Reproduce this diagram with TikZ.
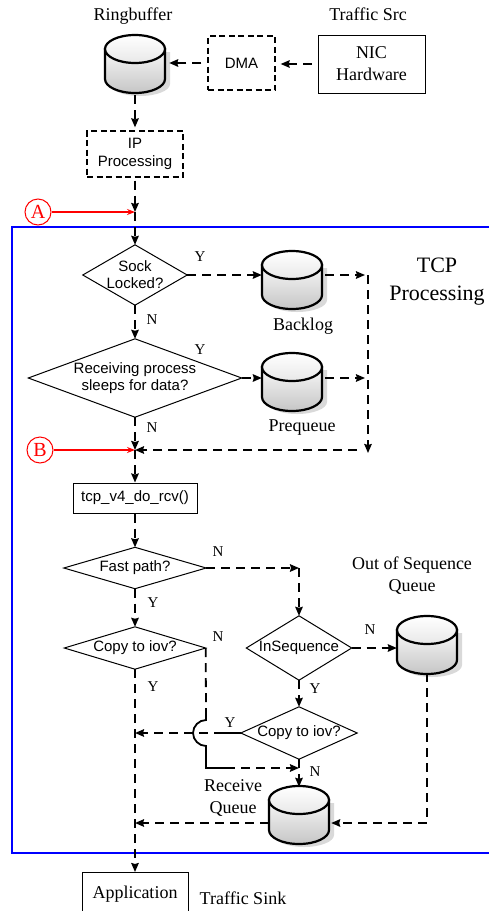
\documentclass[tikz,border=0pt]{standalone}
\usepackage{fontspec}
\setmainfont{Liberation Serif}
\newfontfamily\sansf{Liberation Sans}
\usetikzlibrary{arrows.meta,calc}

\tikzset{
 conn/.style={line width=1.8pt, dash pattern=on 9pt off 6pt, -{Stealth[length=9pt,width=7.5pt,inset=1pt]}},
 solidln/.style={line width=1.8pt},
 lbl/.style={font=\fontsize{18}{22}\selectfont, align=center, inner sep=0pt},
 yn/.style={font=\fontsize{15}{16}\selectfont, inner sep=0pt},
 sbox/.style={draw, line width=1pt, font=\sansf\fontsize{15}{18}\selectfont, align=center, inner sep=0pt},
 dbox/.style={sbox, line width=1.3pt, dash pattern=on 6pt off 3.5pt},
 dtext/.style={font=\sansf\fontsize{15}{17}\selectfont, align=center, inner sep=0pt},
 dia/.style={line width=1pt},
 cylnode/.style={minimum width=60pt, minimum height=56pt, inner sep=0pt},
 redc/.style={draw=red, circle, line width=1pt, minimum size=26pt, inner sep=0pt, text=red, font=\fontsize{20}{20}\selectfont},
 redarr/.style={red, line width=1.2pt, -{Stealth[length=8pt,width=6pt]}},
}

\newcommand\mycyl[2]{%
 \begin{scope}[shift={#2}]
  \fill[black!15] (-25,-12) -- (-25,20) .. controls (-25,26.6) and (-11.6,32) .. (5,32) .. controls (21.6,32) and (35,26.6) .. (35,20) -- (35,-12) -- cycle;
  \draw[line width=2.2pt, top color=gray!6, bottom color=gray!45] (-30,-15) -- (-30,15) .. controls (-30,22.7) and (-16.6,29) .. (0,29) .. controls (16.6,29) and (30,22.7) .. (30,15) -- (30,-15) -- cycle;
  \draw[line width=2.2pt, top color=white, bottom color=gray!18] (0,-15) ellipse [x radius=30, y radius=14];
 \end{scope}
 \node[cylnode] (#1) at #2 {};
}

\newcommand\mydia[5]{%
 \node[dtext, minimum width=#3pt, minimum height=#4pt] (#1) at #2 {#5};
 \draw[dia] (#1.north) -- (#1.east) -- (#1.south) -- (#1.west) -- cycle;
}

\begin{document}
\begin{tikzpicture}[x=1pt,y=-1pt]
\useasboundingbox (0,0) rectangle (489,911);
\draw[blue, line width=1.2pt] (12,227) rectangle (540,853);

% top
\node[lbl] (trb) at (133,16) {Ringbuffer};
\node[lbl] (tsrc) at (368,14) {Traffic Src};
\mycyl{rb}{(135,64)}
\node[dbox, minimum width=67pt, minimum height=54pt] (dma) at (241.5,63) {DMA};
\node[sbox, font=\fontsize{18}{22}\selectfont, minimum width=107pt, minimum height=58pt] (nic) at (371.5,64) {NIC\\Hardware};
\draw[conn, shorten <=6pt, shorten >=5pt] (nic.west) -- (nic.west -| dma.east);
\draw[conn, shorten <=6pt, shorten >=4pt] (dma.west) -- (dma.west -| rb.east);
\node[dbox, minimum width=96pt, minimum height=46pt] (ip) at (135,154) {IP\\Processing};
\draw[conn, shorten <=3pt, shorten >=3pt] (rb.south) -- (ip.north);
\coordinate (A) at (135,212);
\draw[conn, shorten <=3pt] (ip.south) -- (A);
\node[redc] (ca) at (38,212) {A};
\draw[redarr] (ca.east) -- (A);

% TCP processing
\node[lbl, font=\fontsize{22}{28}\selectfont] (ttcp) at (437,282) {TCP\\Processing};
\mydia{sock}{(135,275)}{104}{60}{Sock\\Locked?}
\draw[conn] (A) -- (sock.north);
\node[yn] at (200,257) {Y};
\node[yn] at (152,320) {N};
\mycyl{bl}{(292,280)}
\draw[conn] (sock.east) -- (sock.east -| bl.west);
\node[lbl] at (303,326) {Backlog};
\coordinate (R1) at (368,275);
\draw[conn, shorten <=3pt, shorten >=3pt] (sock.east -| bl.east) -- (R1);
\coordinate (R3) at (368,453);
\draw[conn] (R1) -- (R3);
\coordinate (Rh) at (357,450);
\coordinate (B) at (135,450);
\draw[conn] (Rh) -- (B);

\mydia{rec}{(135,378)}{213}{78}{Receiving process\\sleeps for data?}
\draw[conn] (sock.south) -- (rec.north);
\node[yn] at (200,350) {Y};
\node[yn] at (152,428) {N};
\mycyl{pq}{(292,382)}
\draw[conn] (rec.east) -- (rec.east -| pq.west);
\draw[conn, shorten <=3pt, shorten >=3pt] (rec.east -| pq.east) -- (rec.east -| R1);
\node[lbl] at (302,428) {Prequeue};
\draw[conn] (rec.south) -- (B);
\node[redc] (cb) at (40,450) {B};
\draw[redarr] (cb.east) -- (B);

\node[sbox, minimum width=124pt, minimum height=30pt] (tcp) at (135,498) {tcp\_v4\_do\_rcv()};
\draw[conn] (B) -- (tcp.north);
\mydia{fast}{(135,568)}{142}{41}{Fast path?}
\draw[conn] (tcp.south) -- (fast.north);
\node[yn] at (218,552) {N};
\node[yn] at (153,603) {Y};
\mydia{ins}{(299,648)}{105}{64}{InSequence}
\coordinate (F1) at (fast.east -| ins.north);
\draw[conn] (fast.east) -- (F1);
\draw[conn] (F1) -- (ins.north);
\node[lbl] at (412,576) {Out of Sequence\\Queue};

\mydia{cp1}{(135,648)}{141}{42}{Copy to iov?}
\draw[conn] (fast.south) -- (cp1.north);
\node[yn] at (218,637) {N};
\node[yn] at (153,687) {Y};
\node[sbox, font=\fontsize{18}{22}\selectfont, minimum width=106pt, minimum height=44pt, anchor=north] (app) at (135,872) {Application};
\draw[conn] (cp1.south) -- (app.north);
\node[lbl] at (243,898) {Traffic Sink};

\mycyl{oos}{(427,645)}
\draw[conn] (ins.east) -- (ins.east -| oos.west);
\node[yn] at (370,630) {N};
\mydia{cp2}{(299,733)}{116}{52}{Copy to iov?}
\draw[conn] (ins.south) -- (cp2.north);
\node[yn] at (315,689) {Y};
\node[yn] at (230,723) {Y};
\coordinate (M1) at (cp2.west -| cp1.south);
\draw[solidln] (cp2.west) -- ++(-18,0);
\draw[conn] ($(cp2.west)+(-18,0)$) -- (M1);

\coordinate (J1) at (206,714);
\coordinate (J2) at (206,749);
\coordinate (J3) at (206,768);
\coordinate (J4) at (226,768);
\draw[conn, -] (cp1.east) -- (J1);
\draw[solidln] (J1) -- (206,720) .. controls (199,720) and (193,726) .. (193,733) .. controls (193,740) and (199,746) .. (206,746) -- (J3) -- (J4);
\draw[conn] (J4) -- (J3 -| cp2.south);

\node[yn] at (315,772) {N};
\mycyl{rq}{(299,815)}
\draw[conn] (cp2.south) -- (rq.north);
\node[lbl] at (233,798) {Receive\\Queue};
\coordinate (rqw) at ($(rq.west)+(0,8)$);
\draw[conn] (rqw) -- (rqw -| cp1.south);
\draw[conn, shorten >=2pt] (oos.south) -- (oos.south |- rqw) -- (rqw -| rq.east);
\end{tikzpicture}
\end{document}
